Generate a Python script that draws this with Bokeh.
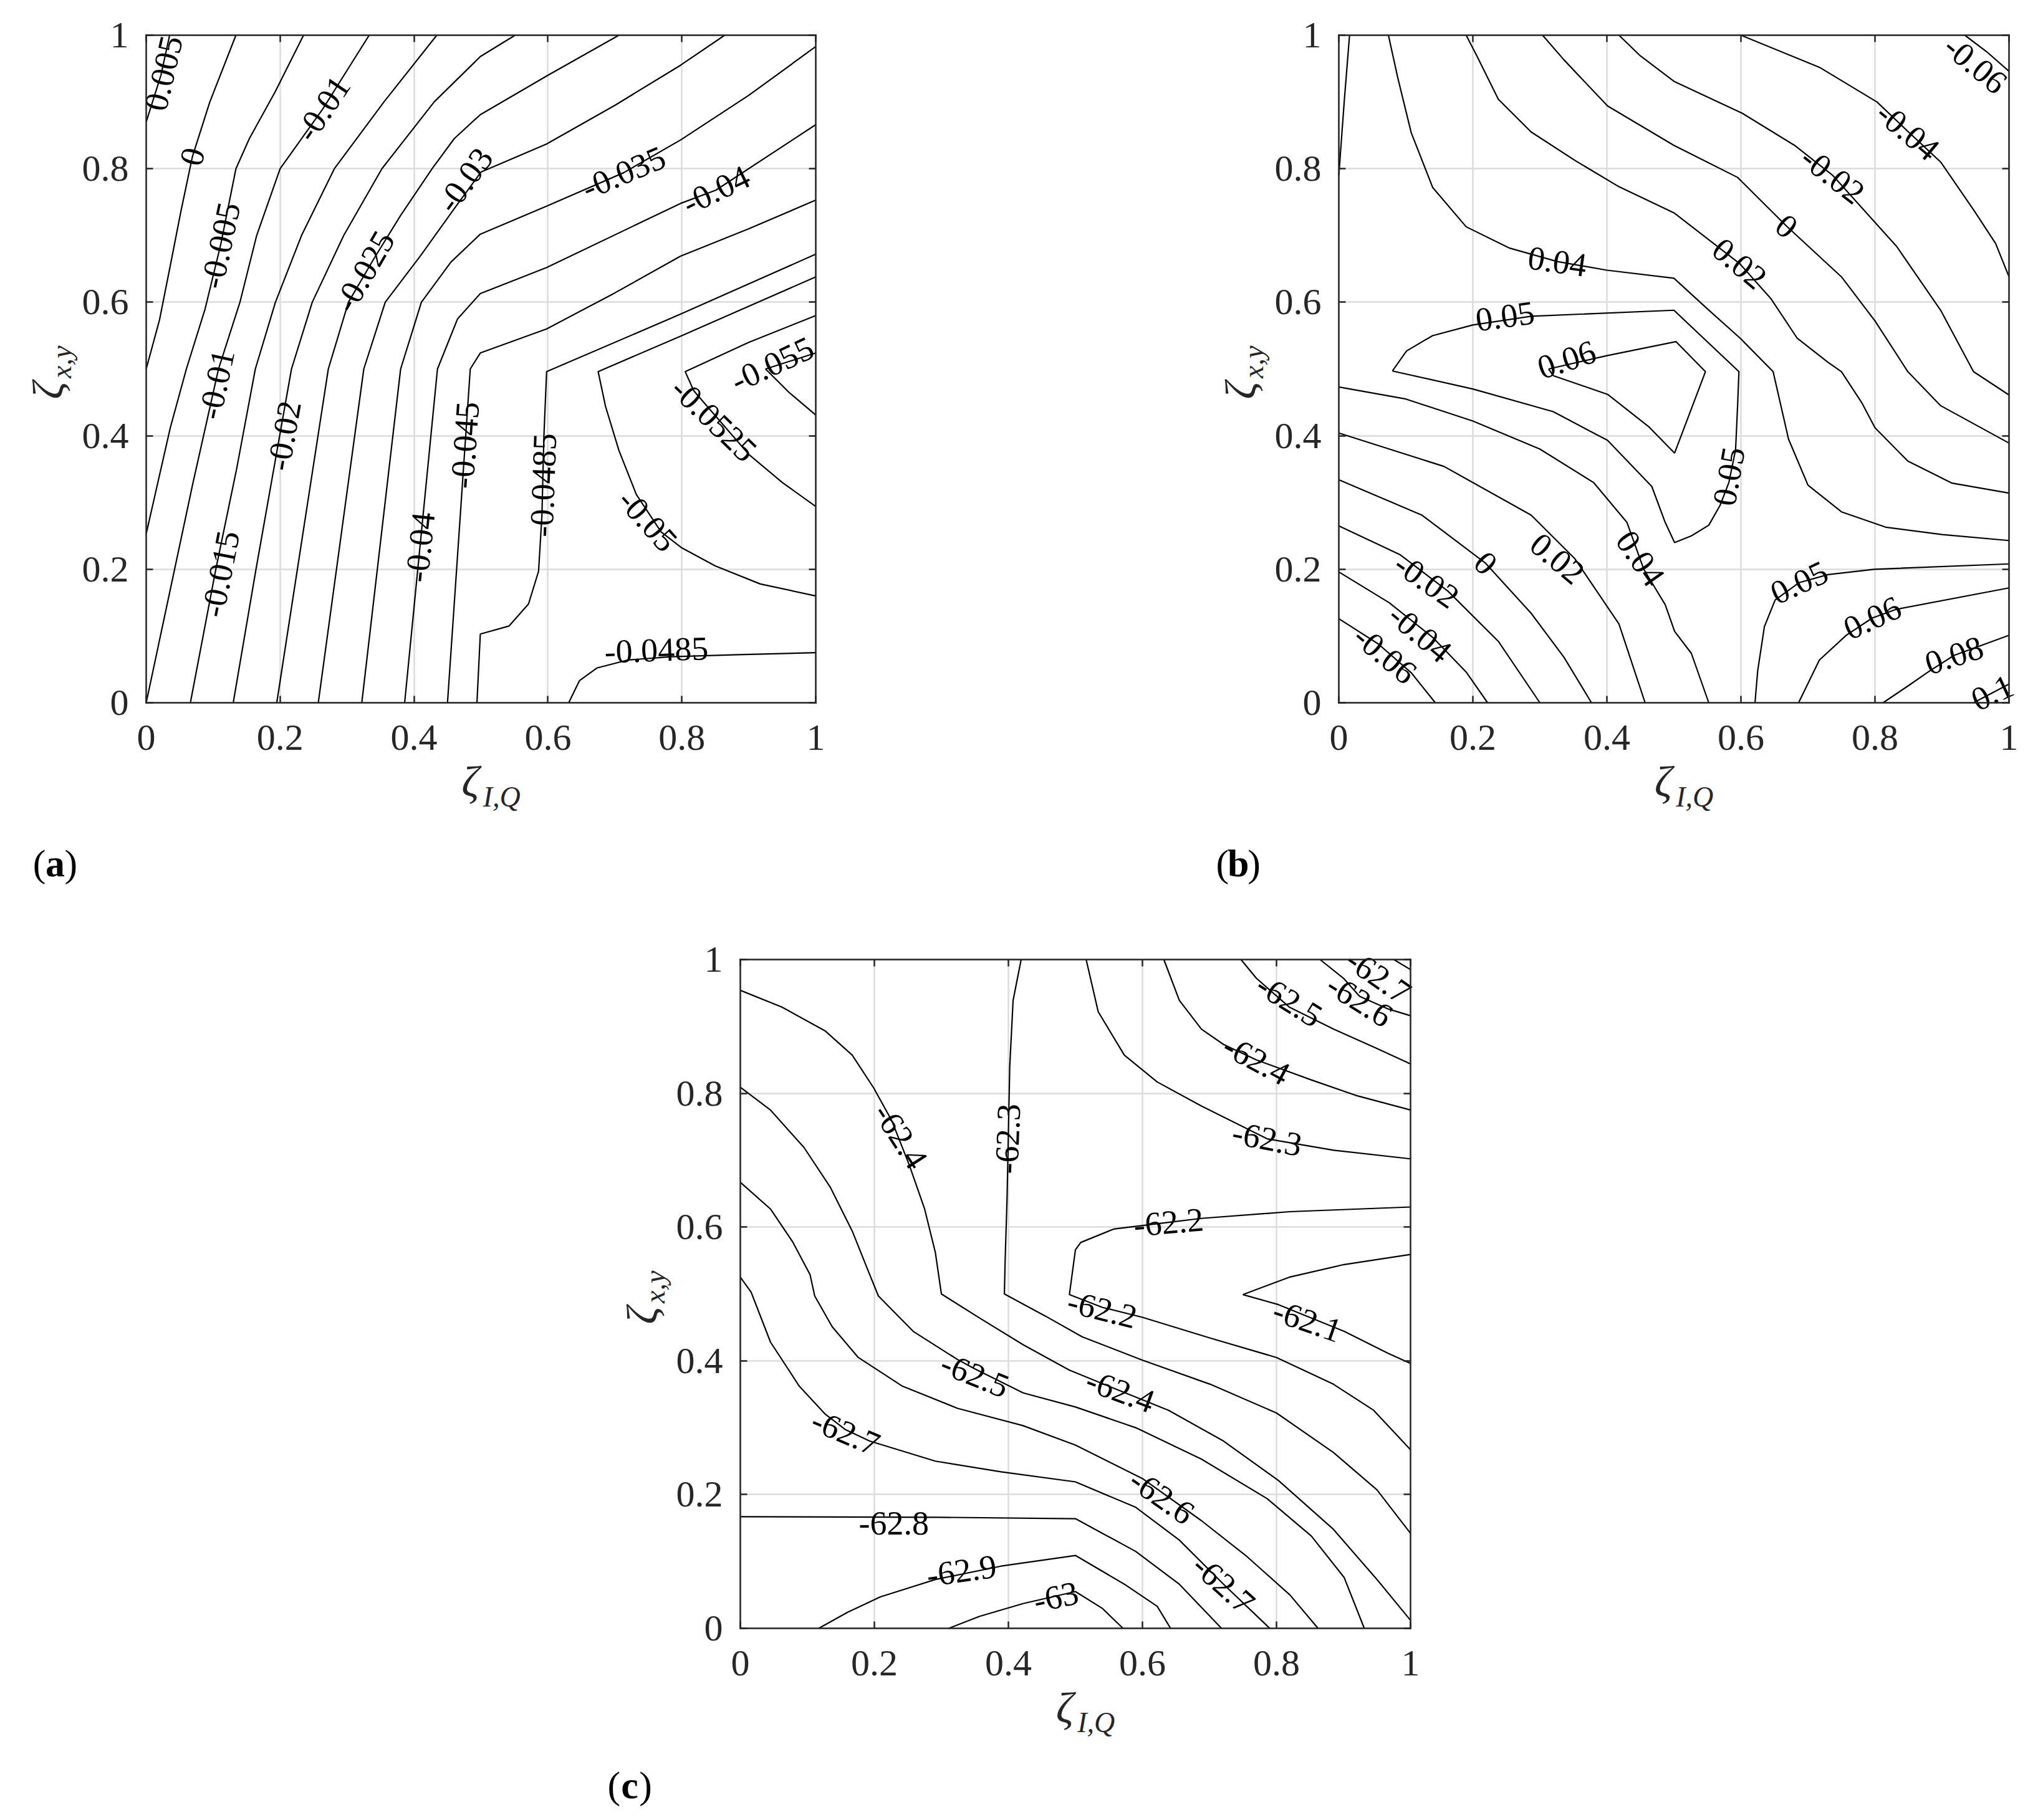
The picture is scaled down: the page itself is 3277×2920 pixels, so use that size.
from bokeh.plotting import figure
from bokeh.models import Label, LinearAxis, FixedTicker, Range1d, Spacer, Grid
from bokeh.layouts import row, column
from bokeh.embed import file_html
from bokeh.resources import INLINE
from bokeh.core.properties import value

TICKS = [0, 0.2, 0.4, 0.6, 0.8, 1]
TICK_LABELS = ["0", "0.2", "0.4", "0.6", "0.8", "1"]

# ---------------- panel (a) ----------------
A_LEVELS = [0.005, 0, -0.005, -0.01, -0.015, -0.02, -0.025, -0.03, -0.035, -0.04,
            -0.045, -0.0485, -0.05, -0.0525, -0.055, -0.0485]
A_XS = [
    [0.035, 0.022, 0.0],
    [0.134, 0.095, 0.069, 0.052, 0.036, 0.020, 0.0],
    [0.235, 0.193, 0.154, 0.134, 0.111, 0.088, 0.060, 0.036, 0.0],
    [0.333, 0.264, 0.20, 0.165, 0.14, 0.108, 0.07, 0.035, 0.0],
    [0.434, 0.355, 0.281, 0.232, 0.193, 0.163, 0.135, 0.104, 0.066],
    [0.551, 0.499, 0.43, 0.352, 0.295, 0.248, 0.217, 0.164, 0.13],
    [0.706, 0.60, 0.499, 0.46, 0.427, 0.38, 0.34, 0.302, 0.272, 0.195],
    [0.864, 0.798, 0.70, 0.598, 0.50, 0.46, 0.41, 0.357, 0.325, 0.257],
    [1.0, 0.90, 0.798, 0.713, 0.598, 0.499, 0.455, 0.411, 0.38, 0.322],
    [1.0, 0.851, 0.798, 0.598, 0.499, 0.465, 0.435, 0.386],
    [1.0, 0.90, 0.798, 0.70, 0.598, 0.499, 0.484, 0.45],
    [1.0, 0.80, 0.598, 0.594, 0.591, 0.586, 0.571, 0.542, 0.499, 0.494],
    [1.0, 0.80, 0.675, 0.686, 0.706, 0.732, 0.769, 0.80, 0.85, 0.917, 1.0],
    [1.0, 0.90, 0.805, 0.818, 0.85, 0.90, 0.95, 1.0],
    [1.0, 0.925, 0.96, 1.0],
    [0.631, 0.647, 0.673, 0.719, 0.785, 0.884, 1.0],
]
A_YS = [
    [1.0, 0.94, 0.87],
    [1.0, 0.90, 0.818, 0.737, 0.655, 0.574, 0.50],
    [1.0, 0.916, 0.845, 0.80, 0.685, 0.59, 0.50, 0.412, 0.253],
    [1.0, 0.89, 0.80, 0.70, 0.60, 0.50, 0.33, 0.165, 0.0],
    [1.0, 0.90, 0.80, 0.70, 0.60, 0.50, 0.35, 0.20, 0.0],
    [1.0, 0.968, 0.90, 0.80, 0.70, 0.60, 0.50, 0.20, 0.0],
    [1.0, 0.94, 0.881, 0.845, 0.80, 0.73, 0.665, 0.60, 0.50, 0.0],
    [1.0, 0.955, 0.895, 0.837, 0.795, 0.74, 0.67, 0.60, 0.50, 0.0],
    [0.983, 0.91, 0.843, 0.794, 0.744, 0.702, 0.66, 0.60, 0.50, 0.0],
    [0.866, 0.768, 0.748, 0.652, 0.613, 0.575, 0.50, 0.0],
    [0.753, 0.71, 0.669, 0.614, 0.56, 0.524, 0.50, 0.0],
    [0.672, 0.583, 0.496, 0.40, 0.28, 0.197, 0.148, 0.115, 0.103, 0.0],
    [0.638, 0.55, 0.496, 0.444, 0.378, 0.312, 0.256, 0.232, 0.205, 0.178, 0.16],
    [0.58, 0.54, 0.496, 0.467, 0.43, 0.372, 0.33, 0.294],
    [0.524, 0.50, 0.465, 0.431],
    [0.0, 0.033, 0.052, 0.064, 0.069, 0.072, 0.075],
]
A_LAB_TEXT = ["0.005", "0", "-0.005", "-0.01", "-0.01", "-0.015", "-0.02", "-0.025", "-0.03",
              "-0.035", "-0.04", "-0.04", "-0.045", "-0.0485", "-0.05", "-0.0525", "-0.055", "-0.0485"]
A_LAB_X = [0.026, 0.069, 0.111, 0.264, 0.105, 0.111, 0.206, 0.326, 0.476,
           0.713, 0.851, 0.409, 0.476, 0.593, 0.749, 0.848, 0.935, 0.762]
A_LAB_Y = [0.943, 0.818, 0.685, 0.89, 0.477, 0.193, 0.40, 0.646, 0.783,
           0.794, 0.768, 0.233, 0.386, 0.326, 0.273, 0.424, 0.507, 0.079]
A_LAB_ANG = [77, 75, 78, 56, 78, 79, 80, 60, 54, 23, 26, 84, 86, 88, -48, -44, 25, 2]

# ---------------- panel (b) ----------------
B_LEVELS = [0.05, 0.04, 0.02, 0, -0.02, -0.04, -0.06, 0.05, 0.06, -0.06, -0.04, -0.02, 0,
            0.02, 0.04, 0.05, 0.06, 0.08, 0.1]
B_XS = [
    [0.016, 0.008, 0.0],
    [0.074, 0.088, 0.108, 0.140, 0.19, 0.255, 0.326, 0.4, 0.5, 0.55, 0.6, 0.648, 0.671, 0.70, 0.75, 0.816, 0.9, 1.0],
    [0.19, 0.206, 0.238, 0.287, 0.353, 0.418, 0.5, 0.598, 0.645, 0.684, 0.73, 0.75, 0.78, 0.80, 0.849, 0.915, 1.0],
    [0.304, 0.336, 0.401, 0.5, 0.595, 0.668, 0.75, 0.8, 0.849, 0.898, 1.0],
    [0.418, 0.45, 0.5, 0.602, 0.68, 0.737, 0.832, 0.898, 0.947, 1.0],
    [0.6, 0.717, 0.803, 0.849, 0.898, 0.948, 0.98, 1.0],
    [0.934, 0.967, 1.0],
    [0.08, 0.101, 0.14, 0.2, 0.287, 0.5, 0.597, 0.595, 0.592, 0.582, 0.569, 0.552, 0.526, 0.501,
     0.487, 0.467, 0.401, 0.32, 0.2, 0.08],
    [0.313, 0.40, 0.503, 0.547, 0.501, 0.463, 0.401, 0.32, 0.313],
    [0.0, 0.059, 0.108, 0.144],
    [0.0, 0.075, 0.14, 0.19, 0.222],
    [0.0, 0.091, 0.163, 0.238, 0.3],
    [0.0, 0.124, 0.219, 0.287, 0.336, 0.377],
    [0.0, 0.157, 0.287, 0.352, 0.418, 0.457],
    [0.0, 0.1, 0.2, 0.3, 0.38, 0.43, 0.455, 0.487, 0.501, 0.526, 0.552],
    [0.621, 0.625, 0.635, 0.651, 0.687, 0.73, 0.799, 1.0],
    [0.686, 0.717, 0.757, 0.796, 0.832, 1.0],
    [0.812, 0.849, 0.882, 0.918, 1.0],
    [0.947, 1.0],
]
B_YS = [
    [1.0, 0.9, 0.79],
    [1.0, 0.936, 0.854, 0.772, 0.713, 0.681, 0.661, 0.648, 0.636, 0.59, 0.545, 0.496, 0.395, 0.326, 0.286, 0.263, 0.252, 0.243],
    [1.0, 0.969, 0.904, 0.855, 0.812, 0.773, 0.734, 0.658, 0.605, 0.546, 0.51, 0.496, 0.45, 0.412, 0.362, 0.329, 0.314],
    [1.0, 0.963, 0.894, 0.835, 0.787, 0.714, 0.638, 0.572, 0.496, 0.445, 0.389],
    [1.0, 0.969, 0.931, 0.883, 0.835, 0.79, 0.684, 0.588, 0.496, 0.461],
    [1.0, 0.952, 0.9, 0.856, 0.81, 0.737, 0.688, 0.638],
    [1.0, 0.975, 0.946],
    [0.497, 0.527, 0.55, 0.566, 0.579, 0.588, 0.496, 0.445, 0.379, 0.33, 0.296, 0.266, 0.25, 0.24,
     0.27, 0.324, 0.393, 0.436, 0.47, 0.497],
    [0.50, 0.52, 0.541, 0.496, 0.374, 0.413, 0.462, 0.49, 0.50],
    [0.126, 0.088, 0.045, 0.0],
    [0.196, 0.15, 0.098, 0.046, 0.0],
    [0.265, 0.222, 0.167, 0.092, 0.0],
    [0.334, 0.281, 0.209, 0.134, 0.068, 0.0],
    [0.404, 0.354, 0.281, 0.216, 0.118, 0.0],
    [0.473, 0.455, 0.422, 0.38, 0.33, 0.27, 0.2, 0.147, 0.107, 0.074, 0.0],
    [0.0, 0.048, 0.114, 0.154, 0.18, 0.192, 0.2, 0.208],
    [0.0, 0.064, 0.101, 0.127, 0.14, 0.172],
    [0.0, 0.025, 0.048, 0.071, 0.101],
    [0.0, 0.028],
]
B_LAB_TEXT = ["0.04", "0.05", "0.06", "0.05", "-0.06", "-0.04", "-0.02", "0", "0.02",
              "0.05", "0.06", "0.08", "0.1", "-0.06", "-0.04", "-0.02", "0", "0.02", "0.04"]
B_LAB_X = [0.326, 0.248, 0.34, 0.582, 0.95, 0.849, 0.737, 0.668, 0.598,
           0.687, 0.796, 0.918, 0.975, 0.069, 0.121, 0.131, 0.219, 0.326, 0.45]
B_LAB_Y = [0.661, 0.579, 0.514, 0.339, 0.956, 0.856, 0.79, 0.714, 0.658,
           0.18, 0.127, 0.071, 0.015, 0.072, 0.104, 0.183, 0.209, 0.216, 0.216]
B_LAB_ANG = [-8, 8, 18, 80, -40, -40, -38, -40, -40, 25, 25, 18, 25, -40, -40, -35, -45, -40, -55]

# ---------------- panel (c) ----------------
C_LEVELS = [-62.4, -62.5, -62.6, -62.7, -62.8, -62.9, -63, -62.3, -62.2, -62.1,
            -62.3, -62.4, -62.5, -62.6, -62.7]
C_XS = [
    [0.0, 0.062, 0.127, 0.167, 0.199, 0.226, 0.252, 0.275, 0.291, 0.3, 0.357, 0.422, 0.491, 0.567,
     0.639, 0.721, 0.803, 0.885, 0.95, 1.0],
    [0.0, 0.045, 0.095, 0.134, 0.167, 0.193, 0.206, 0.258, 0.324, 0.35, 0.422, 0.5, 0.59, 0.688,
     0.786, 0.852, 0.901, 0.931],
    [0.0, 0.045, 0.078, 0.104, 0.111, 0.137, 0.176, 0.242, 0.324, 0.422, 0.5, 0.6, 0.688, 0.754, 0.82, 0.862],
    [0.0, 0.016, 0.045, 0.088, 0.127, 0.157, 0.193, 0.291, 0.389, 0.5, 0.59, 0.655, 0.721, 0.79],
    [0.0, 0.3, 0.5, 0.59, 0.655, 0.718],
    [0.117, 0.16, 0.209, 0.291, 0.389, 0.5, 0.573, 0.622, 0.642],
    [0.311, 0.357, 0.422, 0.5, 0.54, 0.571],
    [0.419, 0.407, 0.402, 0.40, 0.398, 0.395, 0.394, 0.455, 0.51, 0.6, 0.701, 0.8, 0.885, 0.95, 1.0],
    [1.0, 0.82, 0.688, 0.639, 0.557, 0.508, 0.5, 0.491, 0.54, 0.6, 0.701, 0.8, 0.885, 0.945, 1.0],
    [1.0, 0.901, 0.819, 0.75, 0.803, 0.901, 0.967, 1.0],
    [0.516, 0.534, 0.573, 0.622, 0.688, 0.786, 0.885, 1.0],
    [0.632, 0.655, 0.688, 0.721, 0.77, 0.852, 0.918, 1.0],
    [0.747, 0.77, 0.819, 0.885, 0.95, 1.0],
    [0.865, 0.9, 0.924, 0.967, 1.0],
    [0.975, 1.0],
]
C_YS = [
    [0.954, 0.929, 0.893, 0.857, 0.808, 0.759, 0.693, 0.627, 0.562, 0.5, 0.464, 0.424, 0.386, 0.355,
     0.326, 0.28, 0.221, 0.148, 0.073, 0.012],
    [0.809, 0.775, 0.719, 0.66, 0.594, 0.529, 0.497, 0.444, 0.402, 0.388, 0.352, 0.331, 0.3, 0.253,
     0.194, 0.138, 0.076, 0.0],
    [0.667, 0.627, 0.578, 0.529, 0.497, 0.451, 0.405, 0.362, 0.329, 0.303, 0.274, 0.224, 0.161, 0.109, 0.05, 0.0],
    [0.525, 0.503, 0.428, 0.362, 0.32, 0.297, 0.28, 0.25, 0.234, 0.219, 0.181, 0.132, 0.066, 0.0],
    [0.167, 0.166, 0.164, 0.115, 0.066, 0.0],
    [0.0, 0.024, 0.047, 0.073, 0.093, 0.109, 0.066, 0.033, 0.0],
    [0.0, 0.018, 0.037, 0.055, 0.03, 0.0],
    [1.0, 0.939, 0.84, 0.742, 0.644, 0.545, 0.5, 0.467, 0.436, 0.401, 0.365, 0.322, 0.263, 0.207, 0.142],
    [0.63, 0.623, 0.613, 0.607, 0.597, 0.577, 0.566, 0.499, 0.48, 0.465, 0.434, 0.405, 0.365, 0.326, 0.267],
    [0.559, 0.544, 0.525, 0.499, 0.484, 0.444, 0.411, 0.396],
    [1.0, 0.922, 0.857, 0.817, 0.781, 0.732, 0.715, 0.702],
    [1.0, 0.939, 0.896, 0.873, 0.85, 0.82, 0.797, 0.775],
    [1.0, 0.972, 0.929, 0.896, 0.867, 0.844],
    [1.0, 0.972, 0.945, 0.926, 0.916],
    [1.0, 0.985],
]
C_LAB_TEXT = ["-62.4", "-62.3", "-62.5", "-62.6", "-62.7", "-62.4", "-62.3", "-62.2", "-62.2",
              "-62.1", "-62.5", "-62.7", "-62.8", "-62.9", "-63", "-62.4", "-62.6", "-62.7"]
C_LAB_X = [0.239, 0.399, 0.819, 0.924, 0.952, 0.77, 0.786, 0.639, 0.54,
           0.846, 0.35, 0.157, 0.229, 0.33, 0.471, 0.567, 0.629, 0.721]
C_LAB_Y = [0.736, 0.732, 0.939, 0.939, 0.975, 0.85, 0.732, 0.607, 0.477,
           0.46, 0.379, 0.293, 0.157, 0.086, 0.047, 0.355, 0.197, 0.066]
C_LAB_ANG = [-57, 88, -32, -32, -35, -28, -11, 5, -14, -19, -22, -23, 0, 8, 12, -20, -35, -42]

SERIF = "Liberation Serif"
AX_COLOR = "#262626"
GRID_COLOR = "#dcdcdc"
HAS_CROSS_BOUNDS = "cross_bounds" in Grid.properties()


def panel(xs, ys, lt, lx, ly, la, letter, width, height, fl, ft, fw, fh):
    # the 0..1 box occupies (fl, ft, fw, fh) pixels of the canvas
    x0 = -fl / fw
    x1 = x0 + width / fw
    y1 = 1 + ft / fh
    y0 = y1 - height / fh
    p = figure(width=width, height=height, x_range=Range1d(x0, x1), y_range=Range1d(y0, y1),
               output_backend="svg", toolbar_location=None,
               min_border=0, min_border_left=0, min_border_right=0,
               min_border_top=0, min_border_bottom=0)
    p.outline_line_color = None
    p.background_fill_color = "white"
    p.border_fill_color = "white"

    if HAS_CROSS_BOUNDS:
        p.xgrid.ticker = FixedTicker(ticks=TICKS)
        p.ygrid.ticker = FixedTicker(ticks=TICKS)
        p.grid.bounds = (0, 1)
        p.grid.cross_bounds = (0, 1)
        p.grid.grid_line_color = GRID_COLOR
        p.grid.grid_line_width = 2.5
    else:
        p.grid.visible = False
        p.segment(x0=TICKS, y0=[0] * len(TICKS), x1=TICKS, y1=[1] * len(TICKS),
                  line_color=GRID_COLOR, line_width=2.5, level="underlay")
        p.segment(x0=[0] * len(TICKS), y0=TICKS, x1=[1] * len(TICKS), y1=TICKS,
                  line_color=GRID_COLOR, line_width=2.5, level="underlay")

    p.add_layout(LinearAxis(), "above")
    p.add_layout(LinearAxis(), "right")
    for ax in list(p.below) + list(p.left) + list(p.above) + list(p.right):
        ax.ticker = FixedTicker(ticks=TICKS)
        ax.bounds = (0, 1)
        ax.axis_line_color = AX_COLOR
        ax.axis_line_width = 2.5
        ax.axis_line_cap = "square"
        ax.major_tick_in = 11
        ax.major_tick_out = 0
        ax.major_tick_line_color = AX_COLOR
        ax.major_tick_line_width = 2.5
        ax.minor_tick_line_color = None
        ax.major_label_text_font = SERIF
        ax.major_label_text_font_size = "60px"
        ax.major_label_text_color = AX_COLOR
    for ax in list(p.below) + list(p.left):
        ax.fixed_location = 0
        ax.major_label_overrides = dict(zip(TICKS, TICK_LABELS))
    for ax in list(p.above) + list(p.right):
        ax.fixed_location = 1
        ax.major_label_overrides = {t: "" for t in TICKS}
        ax.major_label_standoff = 0
    for ax in p.below:
        ax.major_label_standoff = 36
    for ax in p.left:
        ax.major_label_standoff = 28

    p.multi_line(xs=xs, ys=ys, line_color="black", line_width=2.2)
    p.text(x=lx, y=ly, text=lt, angle=la, angle_units="deg",
           text_font=value(SERIF), text_font_size="54px",
           text_align="center", text_baseline="middle", text_color="black")

    # axis titles: zeta with subscripts
    p.add_layout(Label(x=0.484, y=-0.119, text="ζ", text_font=SERIF, text_font_style="italic",
                       text_font_size="70px", text_align="center", text_baseline="middle",
                       text_color=AX_COLOR))
    p.add_layout(Label(x=0.503, y=-0.141, text="I,Q", text_font=SERIF, text_font_style="italic",
                       text_font_size="46px", text_align="left", text_baseline="middle",
                       text_color=AX_COLOR))
    p.add_layout(Label(x=-0.146, y=0.468, text="ζ", text_font=SERIF, text_font_style="italic",
                       text_font_size="70px", text_align="center", text_baseline="middle",
                       angle=90, angle_units="deg", text_color=AX_COLOR))
    p.add_layout(Label(x=-0.127, y=0.486, text="x,y", text_font=SERIF, text_font_style="italic",
                       text_font_size="46px", text_align="left", text_baseline="middle",
                       angle=90, angle_units="deg", text_color=AX_COLOR))
    # panel letter "(a)" with bold letter
    lxp, lyp = letter[1], letter[2]
    p.add_layout(Label(x=lxp, y=lyp, text="(", text_font=SERIF, text_font_size="62px",
                       text_align="right", text_baseline="middle", x_offset=-15, text_color="black"))
    p.add_layout(Label(x=lxp, y=lyp, text=letter[0], text_font=SERIF, text_font_size="62px",
                       text_font_style="bold", text_align="center", text_baseline="middle",
                       text_color="black"))
    p.add_layout(Label(x=lxp, y=lyp, text=")", text_font=SERIF, text_font_size="62px",
                       text_align="left", text_baseline="middle", x_offset=15, text_color="black"))
    return p


pa = panel(A_XS, A_YS, A_LAB_TEXT, A_LAB_X, A_LAB_Y, A_LAB_ANG, ("a", -0.136, -0.240),
           1600, 1420, 234, 56, 1074, 1071)
pb = panel(B_XS, B_YS, B_LAB_TEXT, B_LAB_X, B_LAB_Y, B_LAB_ANG, ("b", -0.150, -0.240),
           1670, 1420, 547, 56, 1075, 1071)
pc = panel(C_XS, C_YS, C_LAB_TEXT, C_LAB_X, C_LAB_Y, C_LAB_ANG, ("c", -0.165, -0.234),
           1400, 1480, 307, 119, 1075, 1073)

layout = column(row(pa, pb), row(Spacer(width=880, height=1480), pc))

open("out.html", "w").write(file_html(layout, INLINE))
